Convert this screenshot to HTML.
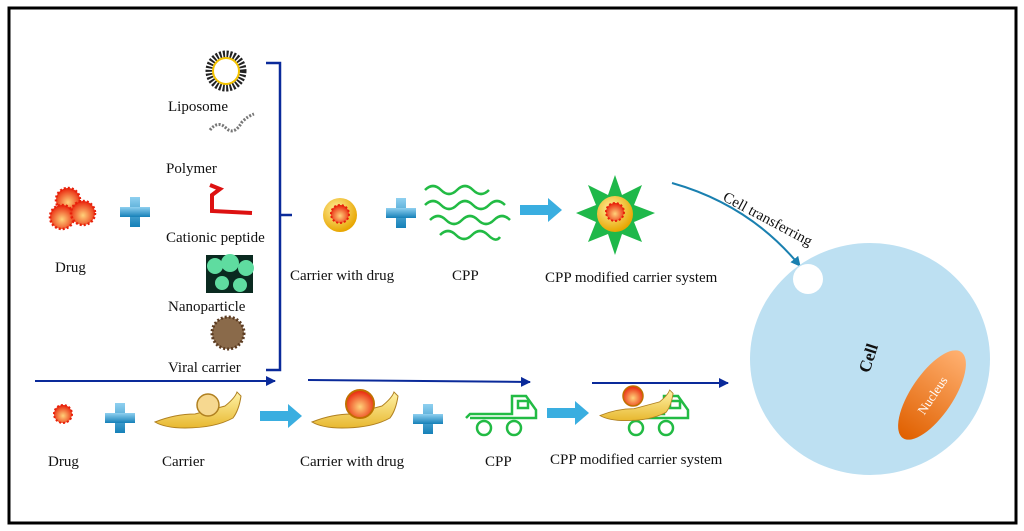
<!DOCTYPE html>
<html><head><meta charset="utf-8"><style>
html,body{margin:0;padding:0;background:#fff}
svg{display:block}
text{font-family:"Liberation Serif",serif;font-size:15px;fill:#111}
</style></head><body>
<svg width="1024" height="531" viewBox="0 0 1024 531" xmlns="http://www.w3.org/2000/svg">
<defs>
<radialGradient id="dr" cx="50%" cy="60%" r="60%"><stop offset="0" stop-color="#ffd27a"/><stop offset="1" stop-color="#e8200a"/></radialGradient>
<radialGradient id="yb" cx="40%" cy="35%" r="65%"><stop offset="0" stop-color="#fff0a0"/><stop offset="1" stop-color="#e8a600"/></radialGradient>
<linearGradient id="pl" x1="0" y1="0" x2="0" y2="1"><stop offset="0" stop-color="#8fd0f0"/><stop offset="1" stop-color="#1580b8"/></linearGradient>
<linearGradient id="nu" x1="0" y1="0" x2="1" y2="0"><stop offset="0" stop-color="#e06000"/><stop offset="1" stop-color="#ffb070"/></linearGradient>
<linearGradient id="sn" x1="0" y1="0" x2="0" y2="1"><stop offset="0" stop-color="#fff3a8"/><stop offset="1" stop-color="#e8b830"/></linearGradient>
<g id="plus"><rect x="-5" y="-15" width="10" height="30" fill="url(#pl)"/><rect x="-15" y="-5" width="30" height="10" fill="url(#pl)"/></g>
<g id="arr"><rect x="0" y="-5" width="28" height="10" fill="#3aaee0"/><polygon points="28,-12 42,0 28,12" fill="#3aaee0"/></g>
<g id="drug1"><circle r="9" fill="url(#dr)" stroke="#e8200a" stroke-width="2" stroke-dasharray="2 2"/></g>
<g id="drug2"><circle r="12" fill="url(#dr)" stroke="#e8200a" stroke-width="2.5" stroke-dasharray="2 2"/></g>
<g id="snail"><path d="M0,30 Q20,22 40,22 L70,14 Q80,6 82,0 L86,4 Q84,18 78,26 Q60,36 30,36 Q10,36 0,30Z" fill="url(#sn)" stroke="#b08020" stroke-width="1"/></g>
<g id="truck" fill="none" stroke="#22bb44" stroke-width="2.5"><path d="M0,22 L4,18 L46,18 L46,0 L60,0 L70,14 L70,22 L4,22"/><rect x="52" y="5" width="10" height="7"/><circle cx="18" cy="32" r="7"/><circle cx="48" cy="32" r="7"/></g>
<marker id="ah" markerWidth="10" markerHeight="10" refX="9" refY="5" orient="auto" markerUnits="userSpaceOnUse"><polygon points="0,0 10,5 0,10" fill="#0a2a9a"/></marker>
<marker id="ah2" markerWidth="10" markerHeight="10" refX="9" refY="5" orient="auto" markerUnits="userSpaceOnUse"><polygon points="0,0 10,5 0,10" fill="#1a80b0"/></marker>
</defs>
<rect x="9" y="8" width="1007" height="515" fill="none" stroke="#000" stroke-width="3"/>

<use href="#drug2" x="68" y="200"/><use href="#drug2" x="62" y="217"/><use href="#drug2" x="83" y="213"/>
<text x="55" y="272">Drug</text>
<use href="#plus" x="135" y="212"/>

<circle cx="226" cy="71" r="17" fill="none" stroke="#222" stroke-width="7" stroke-dasharray="2 1.5"/>
<circle cx="226" cy="71" r="13" fill="none" stroke="#f5c400" stroke-width="2"/>
<text x="168" y="111">Liposome</text>
<path d="M210,130 q8,-10 16,-2 q8,8 16,-6 q6,-6 12,-8" fill="none" stroke="#777" stroke-width="3" stroke-dasharray="2 1.5"/>
<text x="166" y="173">Polymer</text>
<path d="M210,185 l10,4 l-8,6 l0,16 l40,2" fill="none" stroke="#dd1111" stroke-width="4"/>
<text x="166" y="242">Cationic peptide</text>
<rect x="206" y="255" width="47" height="38" fill="#0a2a20"/>
<g fill="#5fdca0"><circle cx="215" cy="266" r="8"/><circle cx="230" cy="263" r="9"/><circle cx="246" cy="268" r="8"/><circle cx="222" cy="283" r="7"/><circle cx="240" cy="285" r="7"/></g>
<text x="168" y="311">Nanoparticle</text>
<circle cx="228" cy="333" r="16" fill="#8a6a4a" stroke="#5a3a20" stroke-width="3" stroke-dasharray="2 2"/>
<text x="168" y="372">Viral carrier</text>

<path d="M266,63 L280,63 L280,370 L266,370 M280,215 L292,215" fill="none" stroke="#0a2a9a" stroke-width="2.5"/>

<circle cx="340" cy="215" r="17" fill="url(#yb)"/><use href="#drug1" x="340" y="214"/>
<text x="290" y="280">Carrier with drug</text>
<use href="#plus" x="401" y="213"/>
<g fill="none" stroke="#22bb44" stroke-width="2.5">
<path d="M425,190 q8,-8 16,0 q8,8 16,0 q8,-8 16,0 q8,8 16,0"/>
<path d="M425,205 q8,-8 16,0 q8,8 16,0 q8,-8 16,0 q8,8 16,0 q8,-8 16,0"/>
<path d="M430,220 q8,-8 16,0 q8,8 16,0 q8,-8 16,0 q8,8 16,0 q8,-8 16,0"/>
<path d="M440,235 q8,-8 16,0 q8,8 16,0 q8,-8 16,0 q8,8 12,2"/>
</g>
<text x="452" y="280">CPP</text>
<use href="#arr" x="520" y="210"/>
<polygon points="615,175 622,195 642,185 634,205 655,213 634,222 642,242 622,234 615,255 608,234 588,242 596,222 576,213 596,205 588,185 608,195" fill="#1fb84a"/>
<circle cx="615" cy="214" r="18" fill="url(#yb)"/><use href="#drug1" x="615" y="212"/>
<text x="545" y="282">CPP modified carrier system</text>

<path d="M672,183 Q750,205 800,266" fill="none" stroke="#1a80b0" stroke-width="2" marker-end="url(#ah2)"/>
<text x="722" y="200" transform="rotate(28 722 200)">Cell transferring</text>

<ellipse cx="870" cy="359" rx="120" ry="116" fill="#bde0f2"/>
<circle cx="808" cy="279" r="15" fill="#fff"/>
<text x="868" y="364" transform="rotate(-72 868 358)" style="font-weight:bold;font-size:17px" text-anchor="middle">Cell</text>
<ellipse cx="932" cy="395" rx="52" ry="21" fill="url(#nu)" transform="rotate(-56 932 395)"/>
<text x="932" y="400" transform="rotate(-56 932 395)" text-anchor="middle" style="fill:#fff;font-size:13px">Nucleus</text>

<line x1="35" y1="381" x2="275" y2="381" stroke="#0a2a9a" stroke-width="2" marker-end="url(#ah)"/>
<line x1="308" y1="380" x2="530" y2="382" stroke="#0a2a9a" stroke-width="2" marker-end="url(#ah)"/>
<line x1="592" y1="383" x2="728" y2="383" stroke="#0a2a9a" stroke-width="2" marker-end="url(#ah)"/>
<use href="#drug1" x="63" y="414"/>
<text x="48" y="466">Drug</text>
<use href="#plus" x="120" y="418"/>
<use href="#snail" x="155" y="392"/>
<circle cx="208" cy="405" r="11" fill="#f6d890" stroke="#b08020" stroke-width="1.5"/>
<text x="162" y="466">Carrier</text>
<use href="#arr" x="260" y="416"/>
<use href="#snail" x="312" y="392"/>
<circle cx="360" cy="404" r="14" fill="url(#dr)" stroke="#c07000" stroke-width="2"/>
<text x="300" y="466">Carrier with drug</text>
<use href="#plus" x="428" y="419"/>
<use href="#truck" x="466" y="396"/>
<text x="485" y="466">CPP</text>
<use href="#arr" x="547" y="413"/>
<use href="#truck" x="618" y="396"/>
<g transform="translate(600,390) scale(0.85)"><use href="#snail"/></g>
<circle cx="633" cy="396" r="10" fill="url(#dr)" stroke="#c07000" stroke-width="1.5"/>
<text x="550" y="464">CPP modified carrier system</text>
</svg>
</body></html>
